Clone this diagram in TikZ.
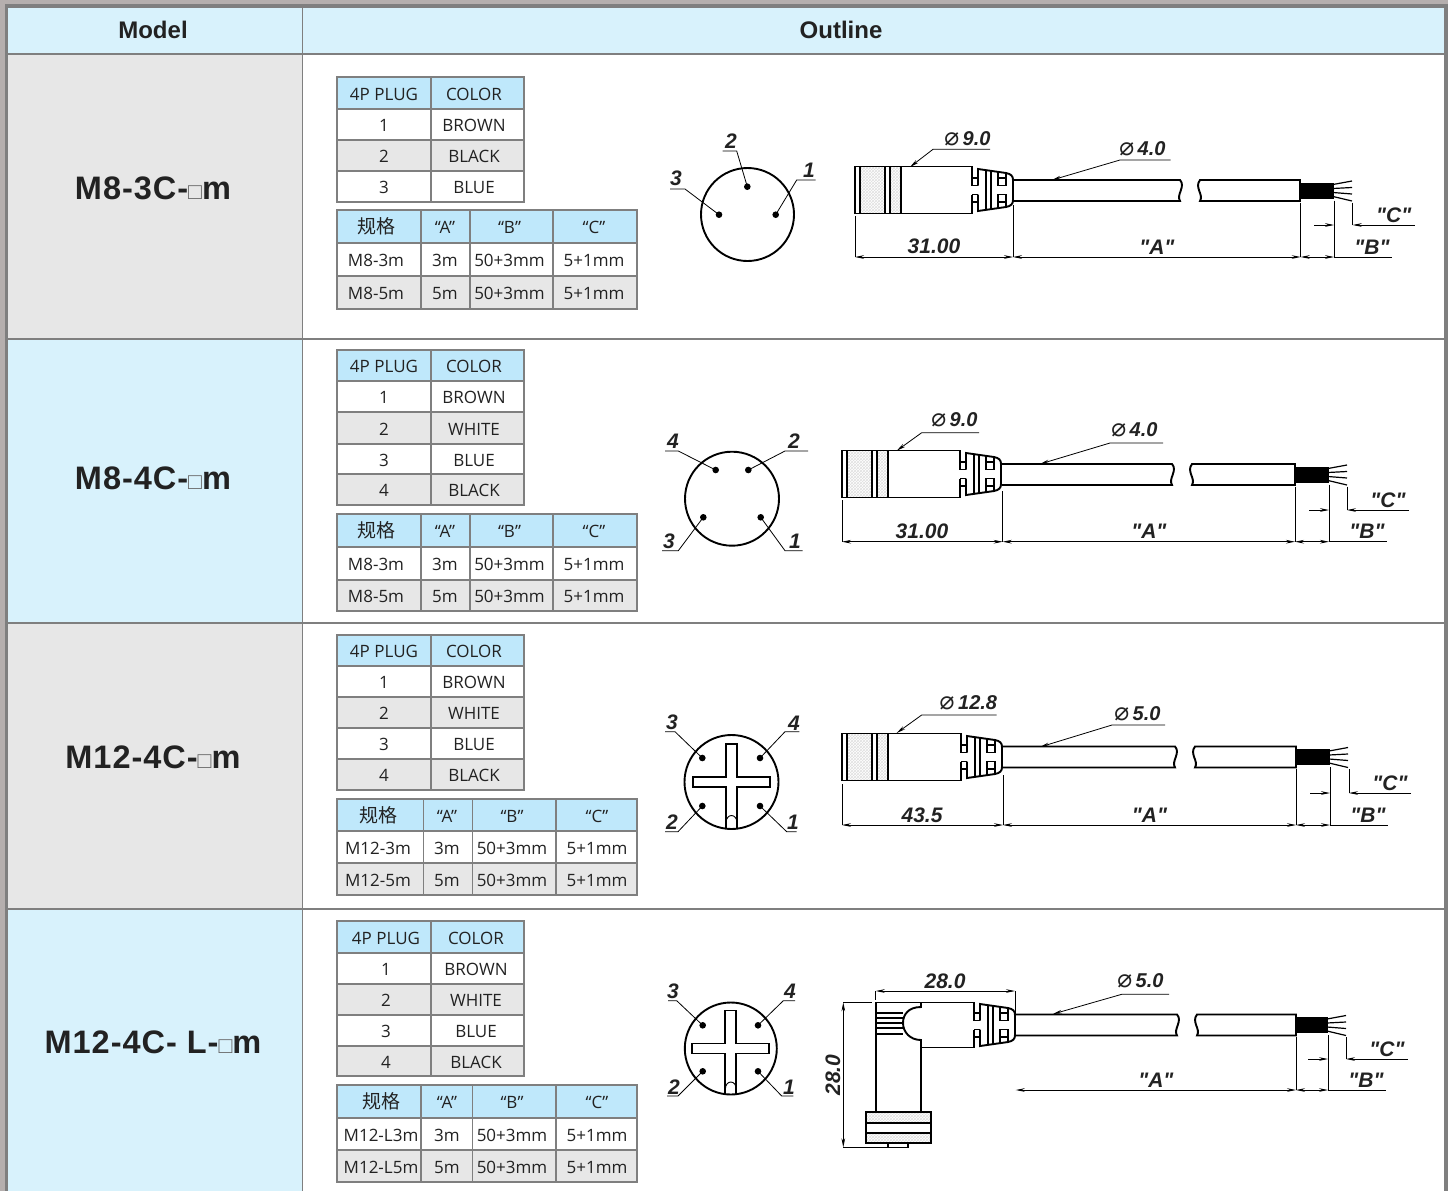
\documentclass[tikz,border=0pt]{standalone}
\usepackage{fontspec}
\setmainfont{Liberation Sans}
\newfontfamily\dimfont{Liberation Sans}
\newfontfamily\tblfont{Open Sans}
\newfontfamily\cjk{Noto Sans CJK SC}
\newfontfamily\symfont{DejaVu Sans}
\usetikzlibrary{arrows.meta,patterns}
\definecolor{headblue}{HTML}{D8F2FC}
\definecolor{tblblue}{HTML}{BFE8FB}
\definecolor{rowgray}{HTML}{E7E7E7}
\definecolor{framegray}{HTML}{7F7F7F}
\definecolor{edgegray}{HTML}{B5AFAE}
\definecolor{inkgray}{HTML}{222222}
\tikzset{
  every node/.style={inner sep=0pt},
  >={Stealth[length=9pt,width=3.6pt]},
  gridline/.style={color=framegray,line width=1.5pt},
  tblgrid/.style={color=framegray,line width=1.2pt},
  tblframe/.style={color=framegray,line width=2.6pt},
  tbltext/.style={font=\tblfont\fontsize{17}{17}\selectfont,text=inkgray,text height=12pt,text depth=0pt,yshift=-1pt},
  headtext/.style={font=\bfseries\fontsize{24}{24}\selectfont,text=inkgray},
  modeltext/.style={font=\bfseries\fontsize{32.5}{32.5}\selectfont\addfontfeature{LetterSpace=3},text=inkgray},
  dimtext/.style={font=\dimfont\bfseries\itshape\fontsize{21}{21}\selectfont,text=inkgray},
  part/.style={black,line width=1.9pt},
  thinpart/.style={black,line width=0.9pt},
  dimline/.style={black,line width=0.8pt},
  hatchzone/.style={pattern=crosshatch,pattern color=black!12,draw=none}
}
\newcommand{\dia}{{\symfont\mdseries\itshape\fontsize{25}{25}\selectfont ⌀\,}}
\newcommand{\guige}{{\cjk\fontsize{19}{19}\selectfont 规格}}
\newcommand{\sqmark}{{\color{black!60}\mdseries\fontsize{23}{23}\selectfont□}}
\newcommand{\plugtable}[8]{
  \foreach \ya/\yb/\rowfill/\cola/\colb in {#8} {
    \fill[fill=\rowfill] (#1,\ya) rectangle (#3,\yb);
    \draw[tblgrid] (#1,\ya) rectangle (#2,\yb) (#2,\ya) rectangle (#3,\yb);
    \node[tbltext] (pl\ya a) at (#6,{(\ya+\yb)/2}) {\cola};
    \node[tbltext] (pl\ya b) at (#7,{(\ya+\yb)/2}) {\colb};
  }
  \draw[tblframe] (#1,#4) rectangle (#3,#5);
}
\newcommand{\spectable}[4]{
  \foreach \xa/\xb/\xc/\xd/\ta/\tb/\tc/\td in {#1} {
  \foreach \ya/\yb/\rowfill/\cola/\colb/\colc/\cold in {#4} {
    \fill[fill=\rowfill] (337,\ya) rectangle (\xd,\yb);
    \draw[tblgrid] (337,\ya) rectangle (\xa,\yb) (\xa,\ya) rectangle (\xb,\yb) (\xb,\ya) rectangle (\xc,\yb) (\xc,\ya) rectangle (\xd,\yb);
    \node[tbltext] (sp\ya a) at (\ta,{(\ya+\yb)/2}) {\cola};
    \node[tbltext] (sp\ya b) at (\tb,{(\ya+\yb)/2}) {\colb};
    \node[tbltext] (sp\ya c) at (\tc,{(\ya+\yb)/2}) {\colc};
    \node[tbltext] (sp\ya d) at (\td,{(\ya+\yb)/2}) {\cold};
  }
  \draw[tblframe] (337,#2) rectangle (\xd,#3);
  }
}
\newcommand{\pinface}[4]{
  \draw[part] (#1,#2) circle (#3);
  \foreach \px/\py/\kx/\ky/\ex/\tx/\ty/\lbl in {#4} {
    \fill (\px,\py) circle (3.3);
    \draw[dimline] (\px,\py) -- (\kx,\ky) -- (\ex,\ky);
    \node[dimtext] (pin\lbl) at (\tx,\ty) {\lbl};
  }
}
\newcommand{\plugcross}[2]{
  \begin{scope}[shift={(#1,#2)}]
    \draw[part] (-5.5,46.5) -- (-5.5,5) -- (-38.5,5) -- (-38.5,-5) -- (-5.5,-5) -- (-5.5,-38) -- (5.5,-38) -- (5.5,-5) -- (38.5,-5) -- (38.5,5) -- (5.5,5) -- (5.5,46.5);
    \draw[thinpart] (-5.5,41) .. controls (-5.5,31) and (5.5,31) .. (5.5,41);
  \end{scope}
}
\newcommand{\gripshape}{
  \draw[part] (6,-4.5) -- (6,-21) -- (34,-17) .. controls (39,-16) and (41,-14) .. (41,-10) -- (41,10) .. controls (41,14) and (39,16) .. (34,17) -- (6,21) -- (6,4.5);
  \draw[part] (0,-12) -- (6,-12) (0,-4.5) -- (6,-4.5) (0,4.5) -- (6,4.5) (0,12) -- (6,12);
  \draw[part] (14.4,-20) -- (14.4,20) (19.4,-19) -- (19.4,19);
  \draw[part] (26,-18) -- (26,-4.5) -- (34.4,-4.5) -- (34.4,-17) (26,-12) -- (34.4,-12);
  \draw[part] (26,18) -- (26,4.5) -- (34.4,4.5) -- (34.4,17) (26,12) -- (34.4,12);
}
\newcommand{\connhead}[3]{
  \begin{scope}[shift={(#1,#2)}]
    \fill[hatchzone] (5,-23.5) rectangle (30,23.5) (35,-23.5) rectangle (46,23.5);
    \draw[part] (#3,-4.5) -- (#3,-23.5) -- (0,-23.5) -- (0,23.5) -- (#3,23.5) -- (#3,4.5);
    \draw[part] (5,-23.5) -- (5,23.5) (30,-23.5) -- (30,23.5) (35,-23.5) -- (35,23.5) (46,-23.5) -- (46,23.5);
    \begin{scope}[xshift=#3]\gripshape\end{scope}
  \end{scope}
}
\newcommand{\cableline}[6]{
  \draw[part] (#5,#1-10.5) -- (#2,#1-10.5) .. controls (#2+6,#1-4) and (#2-4,#1+4) .. (#2,#1+10.5) -- (#5,#1+10.5);
  \draw[part] (#3,#1-10.5) .. controls (#3-6,#1-3) and (#3+4,#1+4) .. (#3,#1+10.5) -- (#4,#1+10.5) -- (#4,#1-10.5) -- cycle;
  \fill (#4,#1-8) rectangle (#4+#6,#1+8);
  \foreach \ya/\yb in {-6/-9.5,-2/-3,2/3.5,6/10.5}
    \draw[thinpart,line width=1.2pt] (#4+#6-1,#1+\ya) -- (#4+#6+18,#1+\yb);
}
\newcommand{\cabledims}[7]{
  \draw[dimline] (#2,#5+12) -- (#2,#7) (#3,#5+10) -- (#3,#7) (#4,#5+12) -- (#4,#6);
  \draw[dimline,<->] (#1,#7) -- (#2,#7);
  \draw[dimline] (#3,#7) -- (#3+58,#7);
  \draw[dimline,<->] (#2,#7) -- (#3,#7);
  \draw[dimline,->] (#3-20,#6) -- (#3,#6);
  \draw[dimline,->] (#4+62,#6) -- (#4,#6);
  \node[dimtext] (dimA) at ({(#1+#2)/2},#7-10) {"A"};
  \node[dimtext] (dimB) at (#3+38,#7-10) {"B"};
  \node[dimtext] (dimC) at (#4+41,#6-10) {"C"};
}
\newcommand{\dialabel}[6]{
  \draw[dimline,<-] (#2) -- (#3) -- (#4);
  \node[dimtext,font=\dimfont\bfseries\itshape\fontsize{20}{20}\selectfont] (#1) at (#5) {\dia#6};
}
\begin{document}
\begin{tikzpicture}[x=1pt,y=-1pt]
\useasboundingbox (0,0) rectangle (1448,1191);
\fill[edgegray] (0,0) rectangle (1448,1191);
\fill[framegray] (5,4) rectangle (1448,1191);
\fill[headblue] (8,8) rectangle (1444,53);
\fill[rowgray] (8,53) rectangle (302,338);
\fill[headblue] (8,338) rectangle (302,622);
\fill[rowgray] (8,622) rectangle (302,908);
\fill[headblue] (8,908) rectangle (302,1191);
\fill[white] (302,53) rectangle (1444,1191);
\foreach \y in {53.5,338.5,622.5,908.5} \draw[gridline,line width=2pt] (8,\y) -- (1444,\y);
\draw[gridline] (302.5,8) -- (302.5,1191);
\node[headtext] (model) at (153,30) {Model};
\node[headtext] (outline) at (841,30) {Outline};
\node[modeltext] (rowa) at (153,188) {M8-3C-\sqmark m};
\node[modeltext] (rowb) at (153,478) {M8-4C-\sqmark m};
\node[modeltext] (rowc) at (153,757) {M12-4C-\sqmark m};
\node[modeltext] (rowd) at (153,1042) {M12-4C- L-\sqmark m};

\begin{scope}[name prefix=a-]
\plugtable{337}{431}{524}{77}{202}{384}{474}{77/109/tblblue/4P PLUG/COLOR,109/140/white/1/BROWN,140/171/rowgray/2/BLACK,171/202/white/3/BLUE}
\spectable{421/470/553/637/376/445/509.5/594}{210}{309}{210/243/tblblue/\guige/“A”/“B”/“C”,243/276/white/M8-3m/3m/50+3mm/5+1mm,276/309/rowgray/M8-5m/5m/50+3mm/5+1mm}
\pinface{747.5}{214.5}{46.5}{747.3/186.7/736.7/151/722.7/731/141/2,719/214.7/685/189/670/676/178/3,775.7/214.7/796.7/180/815.7/809/170/1}
\connhead{855}{190}{117}
\cableline{190.5}{1180}{1200}{1300}{1013}{34}
\cabledims{1013}{1300.7}{1334}{1352.7}{190.5}{225}{257}
\draw[dimline,<->] (855,257) -- (1013,257);
\node[dimtext] (len) at (934,246) {31.00};
\draw[dimline] (855,216) -- (855,257);
\draw[dimline] (1013,205) -- (1013,257);
\dialabel{diahead}{910,167}{933,149.3}{990,149.3}{967,139}{9.0}
\dialabel{diacable}{1052,180}{1120,160}{1170.7,160}{1142,149}{4.0}
\end{scope}

\begin{scope}[name prefix=b-]
\plugtable{337}{431}{524}{350}{505}{384}{474}{350/381/tblblue/4P PLUG/COLOR,381/412/white/1/BROWN,412/444/rowgray/2/WHITE,444/474/white/3/BLUE,474/505/rowgray/4/BLACK}
\spectable{421/470/553/637/376/445/509.5/594}{514}{611}{514/547/tblblue/\guige/“A”/“B”/“C”,547/580/white/M8-3m/3m/50+3mm/5+1mm,580/611/rowgray/M8-5m/5m/50+3mm/5+1mm}
\pinface{732}{498.7}{47}{715.7/470/678.3/451/665/673/441/4,748.3/470/785/451/808/794/441/2,703.3/517.3/678.3/550.7/662/669/541/3,760.7/517.3/785/550.7/802.7/795/541/1}
\connhead{842}{474}{118}
\cableline{474.5}{1172}{1192}{1295}{1002}{34}
\cabledims{1002.7}{1295}{1329}{1347}{474.5}{510}{541.7}
\draw[dimline,<->] (842,541.7) -- (1002.7,541.7);
\node[dimtext] (len) at (922,531) {31.00};
\draw[dimline] (842,500) -- (842,541.7);
\draw[dimline] (1002.7,491) -- (1002.7,541.7);
\dialabel{diahead}{896.7,450.7}{921.7,432.7}{979,432.7}{954,420}{9.0}
\dialabel{diacable}{1040,464}{1110,443}{1163,443}{1134,430}{4.0}
\end{scope}

\begin{scope}[name prefix=c-]
\plugtable{337}{431}{524}{635}{790}{384}{474}{635/666/tblblue/4P PLUG/COLOR,666/697/white/1/BROWN,697/728/rowgray/2/WHITE,728/759/white/3/BLUE,759/790/rowgray/4/BLACK}
\spectable{423.5/472.5/556/637/378/447/512/597}{799}{895}{799/831/tblblue/\guige/“A”/“B”/“C”,831/863/white/M12-3m/3m/50+3mm/5+1mm,863/895/rowgray/M12-5m/5m/50+3mm/5+1mm}
\pinface{731.5}{782}{47}{702.3/758/675/731.7/665/672/722/3,760/758/785/731.7/799.3/794/723/4,702.3/806/678/831.7/665/672/822/2,760/806/786.7/831.7/796.7/793/822/1}
\plugcross{731.5}{782}
\connhead{842}{757}{119}
\cableline{757}{1175}{1195}{1296}{1003}{34}
\cabledims{1003}{1296}{1330}{1349}{757}{793}{825}
\draw[dimline,<->] (842,825) -- (1003,825);
\node[dimtext] (len) at (922,815) {43.5};
\draw[dimline] (842,784) -- (842,825);
\draw[dimline] (1003,775) -- (1003,825);
\dialabel{diahead}{896.7,733}{921.7,715}{996.7,715}{968,703}{12.8}
\dialabel{diacable}{1040,747}{1112,725}{1165,725}{1137,714}{5.0}
\end{scope}

\begin{scope}[name prefix=d-]
\plugtable{337}{431}{524}{921}{1076}{386}{476}{921/953/tblblue/4P PLUG/COLOR,953/984/white/1/BROWN,984/1015/rowgray/2/WHITE,1015/1046/white/3/BLUE,1046/1076/rowgray/4/BLACK}
\spectable{421/472.5/556/637/381/447/512/597}{1085}{1182}{1085/1118/tblblue/\guige/“A”/“B”/“C”,1118/1150/white/M12-L3m/3m/50+3mm/5+1mm,1150/1182/rowgray/M12-L5m/5m/50+3mm/5+1mm}
\pinface{730.8}{1048.5}{46}{702.7/1025.3/676.7/1000.7/668/673/991/3,758/1025.3/783.3/1000.7/795/790/991/4,702.7/1071.3/678/1096/667/674/1087/2,758/1071.3/781.7/1096/793.3/789/1087/1}
\plugcross{730.8}{1048.5}
\fill[hatchzone] (866,1112) rectangle (931,1123) (866,1133) rectangle (931,1143);
\draw[part] (876,1112) -- (876,1002.5) -- (974,1002.5) -- (974,1020.5);
\draw[part] (974,1029.5) -- (974,1047.5) -- (921,1047.5) -- (921,1112);
\draw[part] (921,1002.5) -- (921,1007) .. controls (908,1007) and (903,1015) .. (903,1023) .. controls (903,1032) and (910,1040) .. (921,1040) -- (921,1047.5);
\foreach \y in {1013,1018,1023,1028,1034} \draw[part] (876,\y) -- (903,\y);
\draw[part] (866,1112) rectangle (931,1143) (866,1123) -- (931,1123) (866,1133) -- (931,1133);
\draw[part] (888,1143) rectangle (908,1147.5);
\begin{scope}[shift={(974,1025)}]\gripshape\end{scope}
\cableline{1025}{1177}{1197}{1296}{1015}{32}
\cabledims{1015.7}{1296}{1328}{1346}{1025}{1059}{1090}
\draw[dimline,<->] (875.7,991) -- (1015,991);
\draw[dimline] (875.7,991) -- (875.7,1000) (1015,991) -- (1015,1020);
\draw[dimline,<->] (843.3,1002.3) -- (843.3,1147.3);
\draw[dimline] (843.3,1002.3) -- (872,1002.3) (843.3,1147.3) -- (888,1147.3);
\node[dimtext] (lenh) at (945,981) {28.0};
\node[dimtext,rotate=90] (lenv) at (833,1075) {28.0};
\dialabel{diacable}{1053,1014}{1121.7,994.3}{1169,994.3}{1140,981}{5.0}
\end{scope}
\end{tikzpicture}
\end{document}
